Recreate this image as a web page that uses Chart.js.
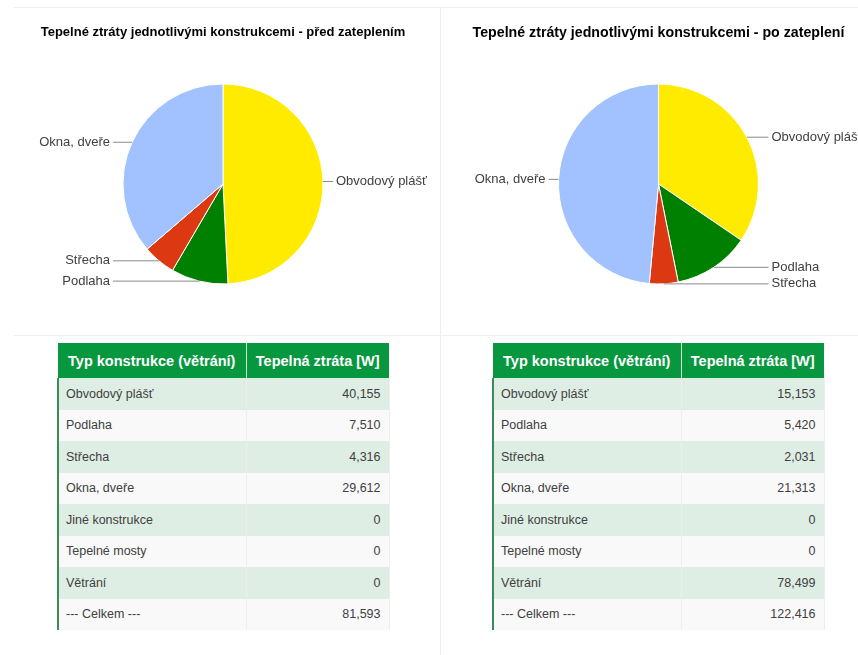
<!DOCTYPE html>
<html lang="cs">
<head>
<meta charset="UTF-8">
<title>Tepelné ztráty jednotlivými konstrukcemi</title>
<script src="https://cdn.jsdelivr.net/npm/chart.js"></script>
<style>
    body {
        margin: 0;
        background: #fff;
        font-family: Arial, "Liberation Sans", sans-serif;
        overflow: hidden;
    }
    .panel {
        position: absolute;
        top: 7px;
        height: 648px;
        border-top: 1px solid #eceef2;
        overflow: hidden;
    }
    #panelBefore { left: 14px; width: 426px; border-right: 1px solid #eceef2; }
    #panelAfter { left: 441px; width: 440px; }
    .panel .sep {
        position: absolute;
        left: 0; right: 0;
        top: 327px;
        border-top: 1px solid #eceef2;
    }
    .panel canvas { position: absolute; left: 0; top: 1px; }
    table.loss {
        position: absolute;
        top: 335px;
        border-collapse: collapse;
        font-size: 12.5px;
        color: #404040;
    }
    #panelBefore table.loss { left: 43px; }
    #panelAfter table.loss { left: 51px; }
    table.loss th {
        background: #07973f;
        color: #fff;
        font-size: 14.5px;
        font-weight: bold;
        height: 35px;
        padding: 0 6px;
        text-align: center;
        border-right: 1px solid #cfe6d7;
    }
    table.loss th:last-child { border-right: none; }
    table.loss td {
        height: 31.5px;
        padding: 0 8px 0 7px;
        border-right: 1px solid #eeeeee;
        box-sizing: border-box;
    }
    table.loss td:first-child { width: 188px; border-left: 2px solid #3c8a58; }
    table.loss td:last-child { width: 143px; text-align: right; }
    table.loss tbody tr:nth-child(odd) td { background: #deeee4; }
    table.loss tbody tr:nth-child(even) td { background: #f9f9f9; }
</style>
</head>
<body>
<div class="panel" id="panelBefore">
    <canvas id="pieBefore" width="418" height="327"></canvas>
    <div class="sep"></div>
    <table class="loss" id="tableBefore"></table>
</div>
<div class="panel" id="panelAfter">
    <canvas id="pieAfter" width="435" height="327"></canvas>
    <div class="sep"></div>
    <table class="loss" id="tableAfter"></table>
</div>
<script>
// kategorie konstrukcí a tepelné ztráty [W]
var categories = ['Obvodový plášť', 'Podlaha', 'Střecha', 'Okna, dveře', 'Jiné konstrukce', 'Tepelné mosty', 'Větrání'];
var lossBefore = [40155, 7510, 4316, 29612, 0, 0, 0];
var lossAfter = [15153, 5420, 2031, 21313, 0, 0, 78499];
var tableHeader = ['Typ konstrukce (větrání)', 'Tepelná ztráta [W]'];
var totalLabel = '--- Celkem ---';

var sliceColors = ['#ffeb00', '#008000', '#dc3912', '#a1c2ff', '#990099', '#0099c6'];

// koláč jen pro konstrukce (bez větrání), nulové položky vynechat
function pieData(values) {
    var labels = [], data = [], colors = [];
    for (var i = 0; i < 6; i++) {
        if (values[i] > 0) {
            labels.push(categories[i]);
            data.push(values[i]);
            colors.push(sliceColors[i]);
        }
    }
    return { labels: labels, datasets: [{ data: data, backgroundColor: colors, borderColor: '#fff', borderWidth: 1 }] };
}

// popisky vedle koláče s vodicí čarou
var sideLabels = {
    id: 'sideLabels',
    afterDatasetsDraw: function(chart) {
        var ctx = chart.ctx;
        var meta = chart.getDatasetMeta(0);
        var items = [];
        meta.data.forEach(function(arc, i) {
            var p = arc.getProps(['x', 'y', 'startAngle', 'endAngle', 'outerRadius'], true);
            var mid = (p.startAngle + p.endAngle) / 2;
            var ay = p.y + Math.sin(mid) * p.outerRadius;
            items.push({
                text: chart.data.labels[i],
                ax: p.x + Math.cos(mid) * p.outerRadius,
                ay: ay,
                ly: ay,
                right: Math.cos(mid) >= 0,
                cx: p.x,
                r: p.outerRadius
            });
        });
        [true, false].forEach(function(side) {
            var list = items.filter(function(it) { return it.right === side; })
                .sort(function(a, b) { return a.ay - b.ay; });
            for (var k = 1; k < list.length; k++) {
                if (list[k].ly - list[k - 1].ly < 13) list[k].ly = list[k - 1].ly + 13;
            }
        });
        ctx.save();
        ctx.font = '13px Arial, "Liberation Sans", sans-serif';
        ctx.textBaseline = 'middle';
        items.forEach(function(it) {
            var dir = it.right ? 1 : -1;
            ctx.strokeStyle = '#8a8a8a';
            ctx.lineWidth = 1;
            ctx.beginPath();
            ctx.moveTo(it.ax, it.ay);
            ctx.lineTo(it.cx + dir * (it.r + 10), it.ly);
            ctx.stroke();
            ctx.fillStyle = '#404040';
            ctx.textAlign = it.right ? 'left' : 'right';
            ctx.fillText(it.text, it.cx + dir * (it.r + 13), it.ly);
        });
        ctx.restore();
    }
};

// titulek: střed řádku na y=mid, kruh začíná na y=74.5
function makePie(id, values, title, titleSize, mid) {
    var lh = titleSize * 1.2;
    var padTop = mid - lh / 2;
    new Chart(document.getElementById(id), {
        type: 'pie',
        data: pieData(values),
        options: {
            responsive: false,
            animation: false,
            layout: { padding: { left: 0, right: 0, top: 0, bottom: 51.5 } },
            plugins: {
                legend: { display: false },
                tooltip: { enabled: false },
                title: {
                    display: true,
                    text: title,
                    color: '#000',
                    font: { family: 'Arial, "Liberation Sans", sans-serif', size: titleSize, weight: 'bold', lineHeight: 1.2 },
                    padding: { top: padTop, bottom: 74.5 - padTop - lh }
                }
            }
        },
        plugins: [sideLabels]
    });
}

function fmt(n) {
    return n.toLocaleString('en-US');
}

function buildTable(id, values) {
    var t = document.getElementById(id);
    var html = '<thead><tr><th>' + tableHeader[0] + '</th><th>' + tableHeader[1] + '</th></tr></thead><tbody>';
    var total = 0;
    categories.forEach(function(c, i) {
        total += values[i];
        html += '<tr><td>' + c + '</td><td>' + fmt(values[i]) + '</td></tr>';
    });
    html += '<tr><td>' + totalLabel + '</td><td>' + fmt(total) + '</td></tr></tbody>';
    t.innerHTML = html;
}

makePie('pieBefore', lossBefore, 'Tepelné ztráty jednotlivými konstrukcemi - před zateplením', 13, 23);
makePie('pieAfter', lossAfter, 'Tepelné ztráty jednotlivými konstrukcemi - po zateplení', 14.2, 24);
buildTable('tableBefore', lossBefore);
buildTable('tableAfter', lossAfter);
</script>
</body>
</html>
